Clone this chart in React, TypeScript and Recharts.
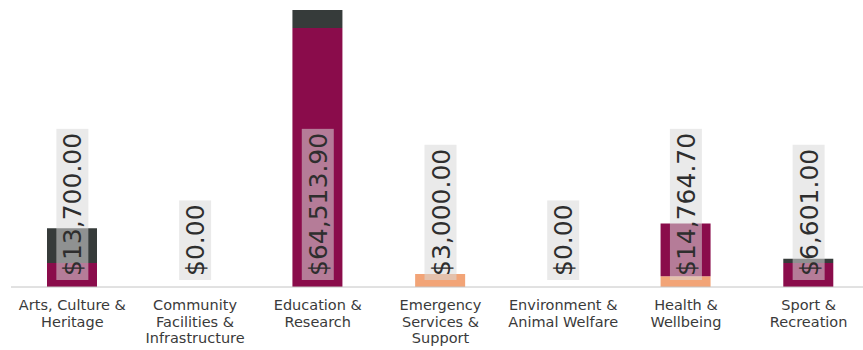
import React from 'react';
import { BarChart, Bar, XAxis, YAxis } from 'recharts';

const categories = [
  'Arts, Culture & Heritage',
  'Community Facilities & Infrastructure',
  'Education & Research',
  'Emergency Services & Support',
  'Environment & Animal Welfare',
  'Health & Wellbeing',
  'Sport & Recreation',
];

// how each category label wraps under the axis
const tickLines = [
  ['Arts, Culture &', 'Heritage'],
  ['Community', 'Facilities &', 'Infrastructure'],
  ['Education &', 'Research'],
  ['Emergency', 'Services &', 'Support'],
  ['Environment &', 'Animal Welfare'],
  ['Health &', 'Wellbeing'],
  ['Sport &', 'Recreation'],
];

const salmonValues = [0, 0, 0, 3000, 0, 2500, 0];
const maroonValues = [5600, 0, 60313.9, 0, 0, 12264.7, 5601];
const greyValues = [8100, 0, 4200, 0, 0, 0, 1000];

const data = categories.map((name, i) => ({
  name,
  salmon: salmonValues[i],
  maroon: maroonValues[i],
  grey: greyValues[i],
  total: salmonValues[i] + maroonValues[i] + greyValues[i],
}));

const money = (v: number) =>
  '$' + v.toLocaleString('en-US', { minimumFractionDigits: 2, maximumFractionDigits: 2 });

const LABEL_FONT = '25px "DejaVu Sans"';
let measureCtx: CanvasRenderingContext2D | null = null;
const textWidth = (s: string) => {
  if (!measureCtx) measureCtx = document.createElement('canvas').getContext('2d');
  if (!measureCtx) return s.length * 15;
  measureCtx.font = LABEL_FONT;
  return measureCtx.measureText(s).width;
};

// tick draws the category name under the axis and the rotated total above it
const CategoryTick = (props: any) => {
  const { x, y, index } = props;
  const lines = tickLines[index] || [];
  const row = data[index];
  const base = Number(y) - 8; // axis line position
  const txt = row ? money(row.total) : '';
  const w = textWidth(txt);
  const boxW = 32;
  return (
    <g>
      <g transform={`translate(${x},${base - 11}) rotate(-90)`}>
        <rect x={-4} y={-boxW / 2} width={w + 8} height={boxW} fill="#d8d8d8" fillOpacity={0.55} />
        <text x={0} y={0} dy="0.36em" textAnchor="start" fill="#2e2e2e" style={{ font: LABEL_FONT }}>
          {txt}
        </text>
      </g>
      {lines.map((l, i) => (
        <text
          key={i}
          x={x}
          y={Number(y) + 15 + i * 16.5}
          textAnchor="middle"
          fill="#3a3a3a"
          style={{ fontSize: 14.5, fontFamily: '"DejaVu Sans"' }}
        >
          {l}
        </text>
      ))}
    </g>
  );
};

export default function App() {
  return (
    <div
      style={{
        position: 'fixed',
        left: 0,
        top: 0,
        width: 863,
        height: 350,
        overflow: 'hidden',
        background: '#fff',
      }}
    >
      <BarChart
        width={880}
        height={350}
        data={data}
        margin={{ top: 10, right: 10, left: 11, bottom: 0 }}
        barSize={50}
      >
        <YAxis hide domain={[0, 'dataMax']} />
        <Bar dataKey="salmon" stackId="a" fill="#f2a477" isAnimationActive={false} />
        <Bar dataKey="maroon" stackId="a" fill="#8a0c4b" isAnimationActive={false} />
        <Bar dataKey="grey" stackId="a" fill="#363b3a" isAnimationActive={false} />
        <XAxis
          dataKey="name"
          interval={0}
          height={63}
          tickLine={false}
          axisLine={{ stroke: '#c4c4c4' }}
          tick={<CategoryTick />}
        />
      </BarChart>
    </div>
  );
}
